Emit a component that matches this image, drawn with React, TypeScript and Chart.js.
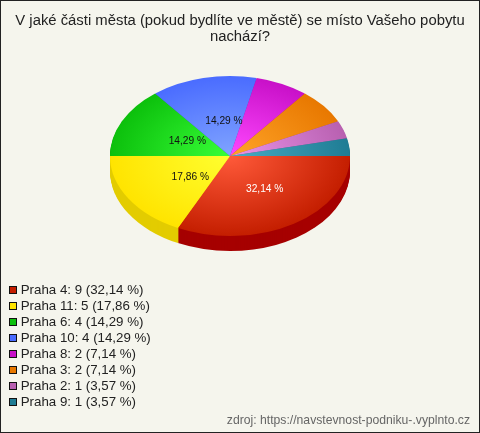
import React, { useEffect, useRef } from 'react';
import { Chart, registerables } from 'chart.js';

Chart.register(...registerables);

const titleLines = ['V jaké části města (pokud bydlíte ve městě) se místo Vašeho pobytu', 'nachází?'];
const sourceText = 'zdroj: https://navstevnost-podniku-.vyplnto.cz';
const categories = ['Praha 4', 'Praha 11', 'Praha 6', 'Praha 10', 'Praha 8', 'Praha 3', 'Praha 2', 'Praha 9'];
const counts = [9, 5, 4, 4, 2, 2, 1, 1];
const percents = ['32,14 %', '17,86 %', '14,29 %', '14,29 %', '7,14 %', '7,14 %', '3,57 %', '3,57 %'];
const labelColors = ['#ffffff', '#111111', '#111111', '#111111', '', '', '', ''];
const innerColors = ['#ff5a3a', '#ffff30', '#38ff38', '#80a4ff', '#ff48ff', '#ffa428', '#ea94ea', '#48acc4'];
const outerColors = ['#c41e00', '#ffe400', '#0cc00c', '#4a6cff', '#c810c8', '#e87800', '#b860b0', '#1f7c94'];
const sideColors = ['#a60000', '#e3cc00', '#0a9a0a', '#3a54c8', '#a00ca0', '#b85f00', '#934c8c', '#186376'];

const SQUASH = 2 / 3;
const DEPTH = 15;
const FONT = '"Liberation Sans", Arial, sans-serif';

// squash the round pie into an ellipse and put the side wall under it
const tiltPlugin = {
  id: 'tilt',
  afterLayout(chart: any) {
    // pie box, the title keeps its own place above
    Object.assign(chart.chartArea, { left: 109, right: 349, top: 35, bottom: 275, width: 240, height: 240 });
  },
  beforeDatasetsDraw(chart: any) {
    const ctx = chart.ctx;
    const arcs = chart.getDatasetMeta(0).data;
    const { x, y } = arcs[0];
    for (let d = DEPTH; d > 0; d--) {
      arcs.forEach((arc: any, i: number) => {
        ctx.save();
        ctx.translate(x, y + d);
        ctx.scale(1, SQUASH);
        ctx.fillStyle = sideColors[i];
        ctx.beginPath();
        ctx.moveTo(0, 0);
        ctx.arc(0, 0, arc.outerRadius, arc.startAngle, arc.endAngle);
        ctx.fill();
        ctx.restore();
      });
    }
    ctx.save();
    ctx.translate(x, y);
    ctx.scale(1, SQUASH);
    ctx.translate(-x, -y);
  },
  afterDatasetsDraw(chart: any) {
    const ctx = chart.ctx;
    ctx.restore();
    const arcs = chart.getDatasetMeta(0).data;
    ctx.save();
    ctx.font = '10.2px ' + FONT;
    ctx.textAlign = 'center';
    ctx.textBaseline = 'middle';
    arcs.forEach((arc: any, i: number) => {
      if (!labelColors[i]) return;
      const mid = (arc.startAngle + arc.endAngle) / 2;
      const lx = arc.x + 6 + arc.outerRadius * 0.45 * Math.cos(mid);
      const ly = arc.y + 1.5 + arc.outerRadius * SQUASH * 0.47 * Math.sin(mid);
      ctx.fillStyle = labelColors[i];
      ctx.fillText(percents[i], lx, ly);
    });
    ctx.restore();
  },
  afterDraw(chart: any) {
    const ctx = chart.ctx;
    ctx.save();
    ctx.font = '13.3px ' + FONT;
    ctx.textBaseline = 'middle';
    categories.forEach((name, i) => {
      const y = 288.5 + i * 16;
      ctx.fillStyle = outerColors[i];
      ctx.fillRect(8.5, y - 3, 7, 7);
      ctx.strokeStyle = '#111111';
      ctx.lineWidth = 1;
      ctx.strokeRect(8.5, y - 3, 7, 7);
      ctx.fillStyle = '#222222';
      ctx.fillText(`${name}: ${counts[i]} (${percents[i]})`, 19.7, y + 0.5);
    });
    ctx.font = '12.2px ' + FONT;
    ctx.textAlign = 'right';
    ctx.fillStyle = '#666666';
    ctx.fillText(sourceText, 469, 419.5);
    ctx.restore();
  },
};

const App: React.FC = () => {
  const canvasRef = useRef<HTMLCanvasElement>(null);

  useEffect(() => {
    document.body.style.margin = '0';
    if (!canvasRef.current) return;

    const chart = new Chart(canvasRef.current, {
      type: 'pie',
      data: {
        labels: categories,
        datasets: [{
          data: counts,
          borderWidth: 0,
          backgroundColor: (c: any) => {
            const area = c.chart.chartArea;
            if (!area) return outerColors[c.dataIndex];
            const cx = (area.left + area.right) / 2;
            const cy = (area.top + area.bottom) / 2;
            const g = c.chart.ctx.createRadialGradient(cx, cy, 0, cx, cy, 120);
            g.addColorStop(0, innerColors[c.dataIndex]);
            g.addColorStop(1, outerColors[c.dataIndex]);
            return g;
          },
        }],
      },
      options: {
        responsive: false,
        animation: false,
        rotation: 90,
        plugins: {
          legend: { display: false },
          tooltip: { enabled: false },
          title: {
            display: true,
            text: titleLines,
            color: '#222222',
            font: { family: FONT, size: 14.85, weight: 'normal', lineHeight: 16 / 14.85 },
            padding: { top: 12, bottom: 0 },
          },
        },
      },
      plugins: [tiltPlugin],
    } as any);

    return () => chart.destroy();
  }, []);

  return (
    <div style={{ width: 480, height: 433, boxSizing: 'border-box', border: '1px solid #222222', background: '#f5f5ed' }}>
      <canvas ref={canvasRef} width={478} height={431} style={{ display: 'block' }} />
    </div>
  );
};

export default App;
